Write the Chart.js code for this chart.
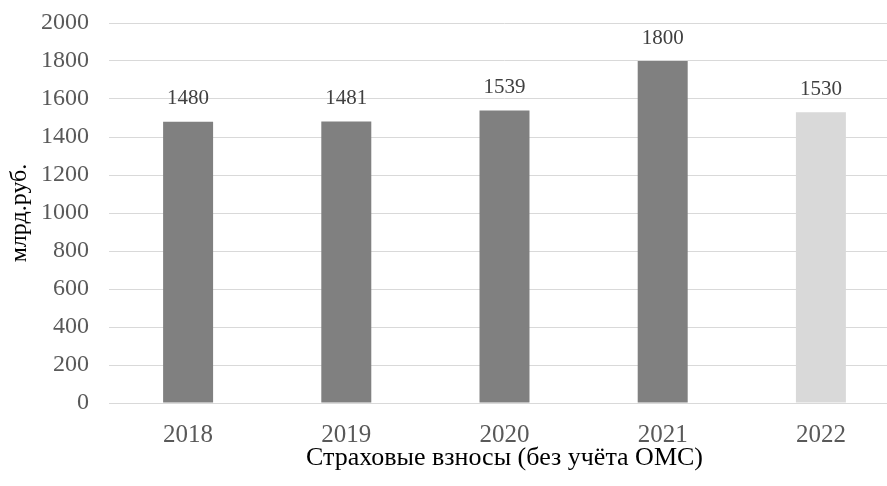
<!DOCTYPE html>
<html>
<head>
<meta charset="utf-8">
<script src="https://cdn.jsdelivr.net/npm/chart.js@4/dist/chart.umd.min.js"></script>
<style>
  html, body { margin: 0; padding: 0; background: #fff; overflow: hidden; }
  #wrap { width: 900px; height: 486px; }
</style>
</head>
<body>
<div id="wrap"><canvas id="c" width="900" height="486"></canvas></div>
<script>
// Страховые взносы по годам, млрд руб.
const years = ['2018', '2019', '2020', '2021', '2022'];
const contributions = [1480, 1481, 1539, 1800, 1530];
const barColors = ['#808080', '#808080', '#808080', '#808080', '#d9d9d9'];
const yTicks = [0, 200, 400, 600, 800, 1000, 1200, 1400, 1600, 1800, 2000];

const serif = "'Liberation Serif', 'Times New Roman', serif";

// Подписи значений над столбцами
const valueLabels = {
  id: 'valueLabels',
  afterDatasetsDraw(chart) {
    const ctx = chart.ctx;
    const meta = chart.getDatasetMeta(0);
    ctx.save();
    ctx.font = '21px ' + serif;
    ctx.fillStyle = '#404040';
    ctx.textAlign = 'center';
    ctx.textBaseline = 'middle';
    meta.data.forEach((bar, i) => {
      ctx.fillText(String(chart.data.datasets[0].data[i]), bar.x, bar.y - 23);
    });
    ctx.restore();
  }
};

new Chart(document.getElementById('c'), {
  type: 'bar',
  data: {
    labels: years,
    datasets: [{
      data: contributions,
      backgroundColor: barColors,
      borderWidth: 0,
      categoryPercentage: 1,
      barPercentage: 0.316
    }]
  },
  options: {
    responsive: false,
    animation: false,
    layout: { padding: { top: 23, right: 0, bottom: 0, left: 0 } },
    plugins: { legend: { display: false }, tooltip: { enabled: false } },
    scales: {
      x: {
        grid: { display: false },
        border: { display: true, color: '#d9d9d9', width: 1 },
        ticks: { color: '#595959', font: { family: serif, size: 25 }, padding: 9 },
        title: {
          display: true,
          text: 'Страховые взносы (без учёта ОМС)',
          color: '#000',
          font: { family: serif, size: 26 },
          padding: { top: 2, bottom: 12 }
        },
        afterFit(scale) {
          scale.height = 83;
          scale.paddingLeft = 0;
          scale.paddingRight = 0;
        }
      },
      y: {
        min: 0,
        max: 2000,
        afterBuildTicks(scale) { scale.ticks = yTicks.map(v => ({ value: v })); },
        grid: { color: '#d9d9d9', lineWidth: 1, drawTicks: false },
        border: { display: false },
        ticks: {
          color: '#595959',
          font: { family: serif, size: 24 },
          padding: 20,
          callback: v => String(v)
        },
        title: {
          display: true,
          text: 'млрд.руб.',
          color: '#000',
          font: { family: serif, size: 24 },
          padding: { top: 5, bottom: 0 }
        },
        afterFit(scale) {
          scale.width = 109;
          scale.paddingTop = 0;
          scale.paddingBottom = 0;
        }
      }
    }
  },
  plugins: [valueLabels]
});
</script>
</body>
</html>
